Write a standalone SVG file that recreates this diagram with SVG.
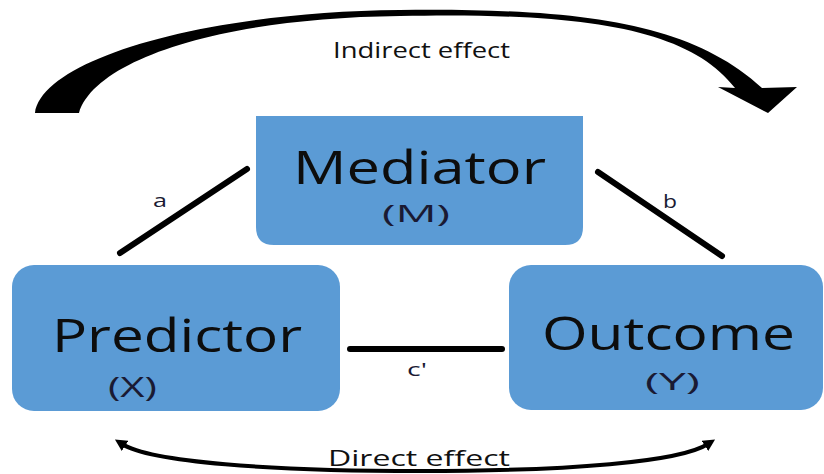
<svg xmlns="http://www.w3.org/2000/svg" width="824" height="474" viewBox="0 0 824 474">
  <style>
    .box { fill: #5b9bd5; }
    .big { font-family: "Open Sans", "Liberation Sans", sans-serif; font-size: 45px; fill: #0d0d0d; }
    .sym { font-family: "Open Sans", "Liberation Sans", sans-serif; fill: #1a1a33; }
    .lbl { font-family: "Open Sans", "Liberation Sans", sans-serif; font-size: 18px; fill: #1a1a33; }
    .eff { font-family: "Open Sans", "Liberation Sans", sans-serif; font-size: 21px; fill: #111; }
    .path { stroke: #000; stroke-width: 6; stroke-linecap: round; fill: none; }
  </style>
  <defs>
    <marker id="head" viewBox="0 0 10 10" refX="3" refY="5" markerWidth="12" markerHeight="12" markerUnits="userSpaceOnUse" orient="auto-start-reverse">
      <path d="M0,0 L10,5 L0,10 z" fill="#000"/>
    </marker>
  </defs>

  <g id="connectors">
    <line class="path" x1="120" y1="253" x2="247" y2="169"/>
    <line class="path" x1="598" y1="172" x2="722" y2="256"/>
    <line class="path" x1="350" y1="349" x2="502" y2="349"/>
    <text class="lbl" x="153" y="207" textLength="14" lengthAdjust="spacingAndGlyphs">a</text>
    <text class="lbl" x="663" y="208" textLength="14" lengthAdjust="spacingAndGlyphs">b</text>
    <text class="lbl" x="407" y="376" textLength="20" lengthAdjust="spacingAndGlyphs">c'</text>
  </g>

  <g id="indirect-effect">
    <path d="M35,113 C42,60 200,12 400,10 C580,8 690,22 762,88 L797,87 L768,113 L718,87 L735,88 C690,30 590,12 400,16 C220,18 95,60 79,113 Z" fill="#000"/>
    <text class="eff" x="333" y="58" textLength="177" lengthAdjust="spacingAndGlyphs">Indirect effect</text>
  </g>

  <g id="direct-effect">
    <path d="M122,444 C150,462 270,471 420,471 C570,471 680,462 708,444" fill="none" stroke="#000" stroke-width="4" marker-start="url(#head)" marker-end="url(#head)"/>
    <text class="eff" x="328" y="466" textLength="182" lengthAdjust="spacingAndGlyphs">Direct effect</text>
  </g>

  <g id="mediator">
    <path class="box" d="M256,116 H583 V227 Q583,245 565,245 H274 Q256,245 256,227 Z"/>
    <text class="big" x="293" y="184" textLength="253" lengthAdjust="spacingAndGlyphs">Mediator</text>
    <text class="sym" x="382" y="222" font-size="24" textLength="68" lengthAdjust="spacingAndGlyphs">(M)</text>
  </g>

  <g id="predictor">
    <rect class="box" x="12" y="265" width="328" height="146" rx="22"/>
    <text class="big" x="52" y="352" textLength="250" lengthAdjust="spacingAndGlyphs">Predictor</text>
    <text class="sym" x="108" y="397" font-size="27" textLength="49" lengthAdjust="spacingAndGlyphs">(X)</text>
  </g>

  <g id="outcome">
    <rect class="box" x="509" y="265" width="314" height="145" rx="22"/>
    <text class="big" x="542" y="350" textLength="253" lengthAdjust="spacingAndGlyphs">Outcome</text>
    <text class="sym" x="645" y="390" font-size="23" textLength="55" lengthAdjust="spacingAndGlyphs">(Y)</text>
  </g>
</svg>
